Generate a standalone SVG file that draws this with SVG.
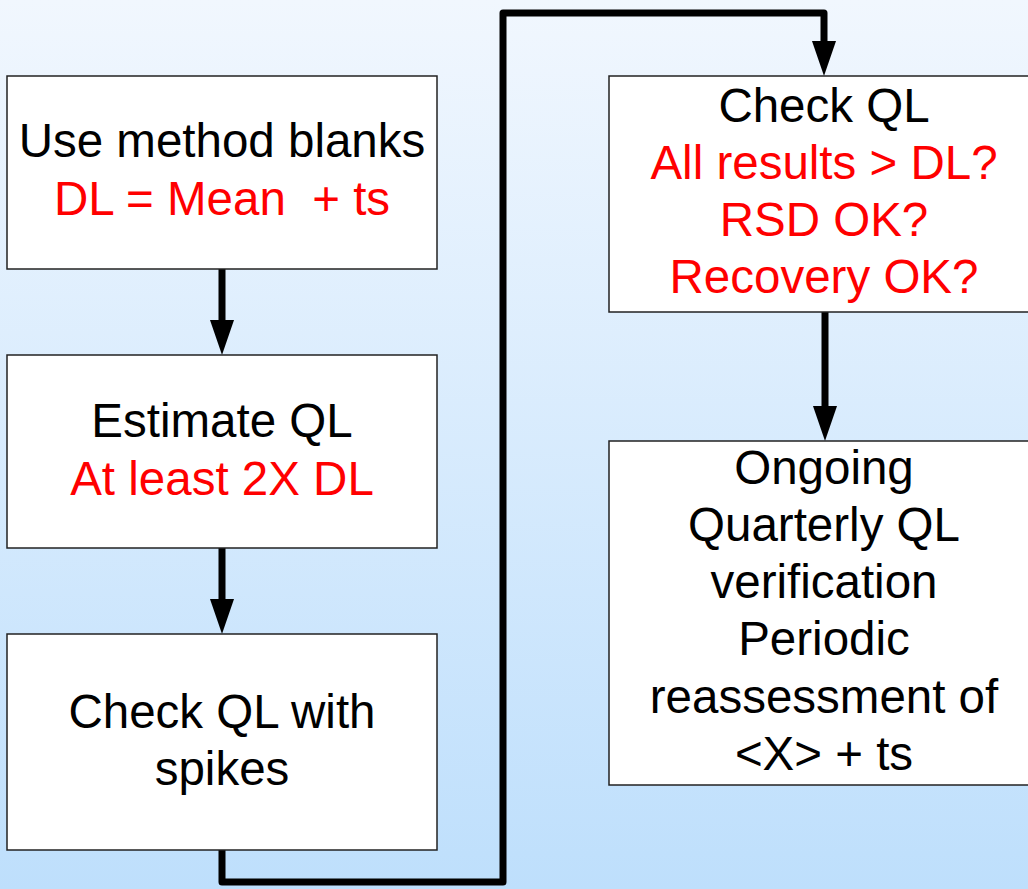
<svg xmlns="http://www.w3.org/2000/svg" width="1028" height="889" viewBox="0 0 1028 889">
  <defs>
    <linearGradient id="bg" x1="0" y1="0" x2="0" y2="1">
      <stop offset="0" stop-color="#f1f7fe"/>
      <stop offset="1" stop-color="#bedffc"/>
    </linearGradient>
  </defs>
  <style>
    .box { fill: #ffffff; stroke: #222; stroke-width: 1.5; }
    .t { font-family: "Liberation Sans", Arial, sans-serif; font-size: 47.5px; text-anchor: middle; fill: #000; }
    .red { fill: #ff0000; }
    .conn { fill: none; stroke: #000; stroke-width: 7; stroke-linecap: round; stroke-linejoin: round; }
    .head { fill: #000; }
  </style>

  <rect x="0" y="0" width="1028" height="889" fill="url(#bg)"/>

  <g id="connectors">
    <path class="conn" d="M222,269 V324"/>
    <path class="head" d="M210,320 L234,320 L222,355 Z"/>
    <path class="conn" d="M222,548 V603"/>
    <path class="head" d="M210,599 L234,599 L222,634 Z"/>
    <path class="conn" d="M222,850 V882 H503 V13 H824 V45"/>
    <path class="head" d="M812,41 L836,41 L824,76 Z"/>
    <path class="conn" d="M825,312 V410"/>
    <path class="head" d="M813,406 L837,406 L825,441 Z"/>
  </g>

  <g id="node-blanks">
    <rect class="box" x="7" y="76" width="430" height="193"/>
    <text class="t" x="222" y="157">Use method blanks</text>
    <text class="t red" x="222" y="215" xml:space="preserve">DL = Mean  + ts</text>
  </g>

  <g id="node-estimate">
    <rect class="box" x="7" y="355" width="430" height="193"/>
    <text class="t" x="222" y="437">Estimate QL</text>
    <text class="t red" x="222" y="495">At least 2X DL</text>
  </g>

  <g id="node-spikes">
    <rect class="box" x="7" y="634" width="430" height="216"/>
    <text class="t" x="222" y="728">Check QL with</text>
    <text class="t" x="222" y="785">spikes</text>
  </g>

  <g id="node-check">
    <rect class="box" x="609" y="76" width="430" height="236"/>
    <text class="t" x="824" y="122">Check QL</text>
    <text class="t red" x="824" y="179">All results &gt; DL?</text>
    <text class="t red" x="824" y="236">RSD OK?</text>
    <text class="t red" x="824" y="293">Recovery OK?</text>
  </g>

  <g id="node-ongoing">
    <rect class="box" x="609" y="441" width="430" height="344"/>
    <text class="t" x="824" y="484">Ongoing</text>
    <text class="t" x="824" y="541">Quarterly QL</text>
    <text class="t" x="824" y="598">verification</text>
    <text class="t" x="824" y="655">Periodic</text>
    <text class="t" x="824" y="713">reassessment of</text>
    <text class="t" x="824" y="770">&lt;X&gt; + ts</text>
  </g>
</svg>
